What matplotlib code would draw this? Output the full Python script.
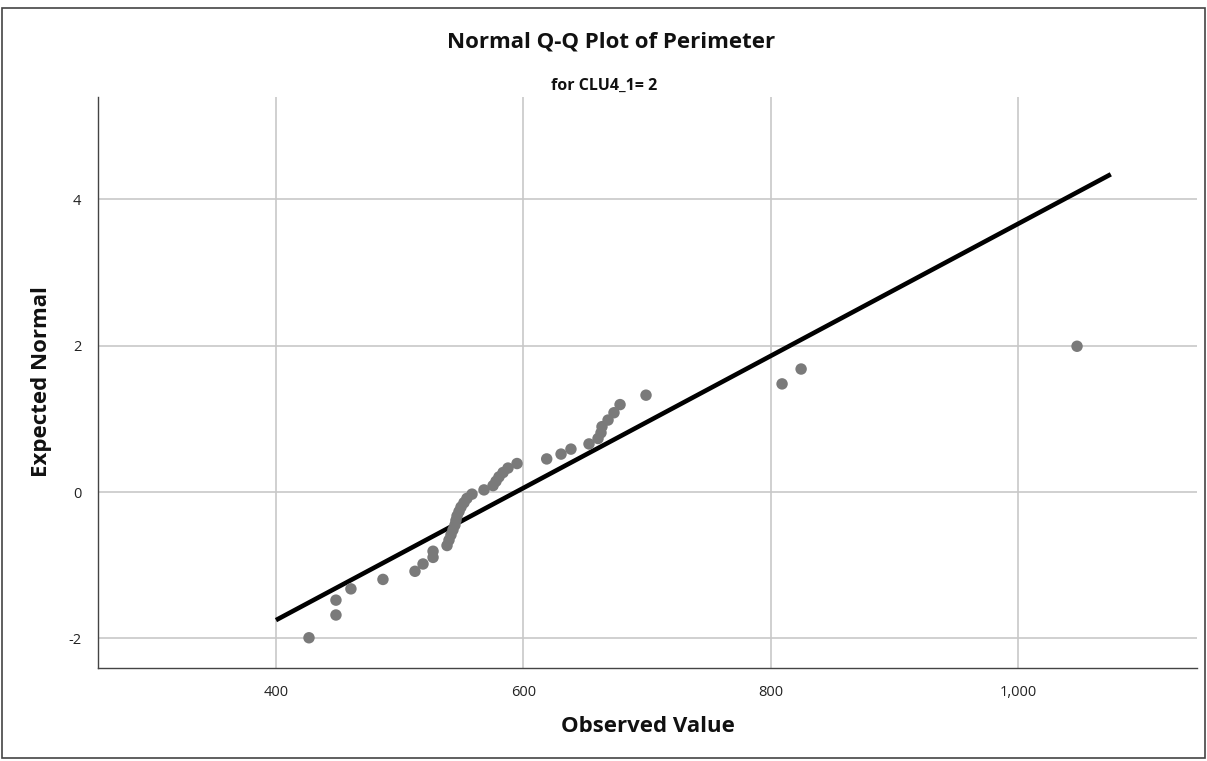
import matplotlib
matplotlib.use("Agg")
import matplotlib.pyplot as plt
from matplotlib.patches import Rectangle
import numpy as np

# Observed perimeter values (x) and expected normal scores (y)
observed = [426.7, 448.5, 448.5, 460.6, 486.5, 512.4, 518.9, 527.0, 527.0, 538.3,
            539.9, 541.5, 543.1, 544.7, 545.5, 546.4, 548.0, 549.6, 552.0, 554.4,
            558.5, 568.2, 575.5, 577.9, 580.3, 583.6, 587.6, 594.9, 618.9, 630.5,
            638.5, 653.1, 660.4, 662.8, 663.6, 668.5, 673.3, 678.2, 699.2, 809.2,
            824.6, 1047.7]
expected = [-1.991, -1.680, -1.477, -1.323, -1.194, -1.083, -0.983, -0.893, -0.809, -0.731,
            -0.657, -0.586, -0.518, -0.452, -0.389, -0.327, -0.266, -0.206, -0.146, -0.087,
            -0.029, 0.029, 0.087, 0.146, 0.206, 0.266, 0.327, 0.389, 0.452, 0.518,
            0.586, 0.657, 0.731, 0.809, 0.893, 0.983, 1.083, 1.194, 1.323, 1.477,
            1.680, 1.991]

# Reference line endpoints (observed value, expected normal)
line_x = [400, 1075]
line_y = [-1.75, 4.34]

x_ticks = [400, 600, 800, 1000]
x_ticklabels = ["400", "600", "800", "1,000"]
y_ticks = [-2, 0, 2, 4]
y_ticklabels = ["-2", "0", "2", "4"]

title = "Normal Q-Q Plot of Perimeter"
subtitle = "for CLU4_1= 2"
xlabel = "Observed Value"
ylabel = "Expected Normal"

FONT = ["Open Sans", "DejaVu Sans"]
plt.rcParams["font.family"] = FONT

W, H = 1207, 761
fig = plt.figure(figsize=(W / 100, H / 100), dpi=100)
ax = fig.add_axes([98 / W, 1 - 668 / H, (1197 - 98) / W, (668 - 97) / H])

ax.set_xlim(256.1, 1144.7)
ax.set_ylim(-2.404, 5.396)

ax.grid(True, color="#c8c8c8", linewidth=1.2)
ax.set_axisbelow(True)
ax.set_xticks(x_ticks)
ax.set_xticklabels(x_ticklabels)
ax.set_yticks(y_ticks)
ax.set_yticklabels(y_ticklabels)
ax.tick_params(length=0, labelsize=10.5, colors="#222222", pad=12)

for s in ["top", "right"]:
    ax.spines[s].set_visible(False)
for s in ["left", "bottom"]:
    ax.spines[s].set_color("#444444")
    ax.spines[s].set_linewidth(1.0)

ax.plot(line_x, line_y, color="black", linewidth=3.3, solid_capstyle="butt", zorder=3)
ax.scatter(observed, expected, s=68, color="#7a7a7a", edgecolors="none", zorder=4)

fig.text(611 / W, 1 - 42 / H, title, ha="center", va="center",
         fontsize=16, fontweight="bold", color="#111111")
fig.text(604 / W, 1 - 86 / H, subtitle, ha="center", va="center",
         fontsize=11.5, fontweight="bold", color="#111111")
fig.text(648 / W, 1 - 727 / H, xlabel, ha="center", va="center",
         fontsize=16, fontweight="bold", color="#111111")
fig.text(42 / W, 1 - 382 / H, ylabel, ha="center", va="center", rotation=90,
         fontsize=16, fontweight="bold", color="#111111")

fig.add_artist(Rectangle((2 / W, 3 / H), (W - 4) / W, (H - 11) / H,
                         transform=fig.transFigure, fill=False,
                         edgecolor="#444444", linewidth=1.2))

fig.savefig("out.png", dpi=100)
